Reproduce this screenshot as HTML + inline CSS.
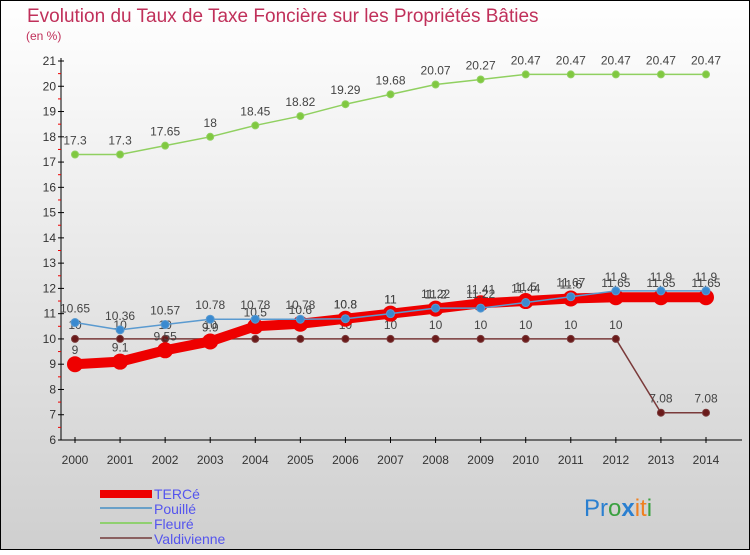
<!DOCTYPE html>
<html><head><meta charset="utf-8"><style>
body{margin:0}
svg text{font-family:"Liberation Sans",sans-serif}
</style></head><body>
<svg width="750" height="550" xmlns="http://www.w3.org/2000/svg">
<defs><linearGradient id="bg" x1="0" y1="0" x2="0" y2="1"><stop offset="0" stop-color="#ffffff"/><stop offset="1" stop-color="#cfcfcf"/></linearGradient></defs>
<rect x="0.5" y="0.5" width="749" height="549" fill="url(#bg)" stroke="#000"/>
<text x="27" y="22" font-size="19" fill="#c0305a">Evolution du Taux de Taxe Foncière sur les Propriétés Bâties</text>
<text x="26" y="40" font-size="12" fill="#c0305a">(en %)</text>
<g id="axes"></g>
<g id="series"></g>
<g>
<rect x="100" y="490" width="52" height="8" fill="#ee0000"/>
<text x="154" y="499" font-size="14" fill="#5555ee">TERCé</text>
<rect x="100" y="507" width="52" height="2" fill="#6aa0c8"/>
<text x="154" y="514" font-size="14" fill="#5555ee">Pouillé</text>
<rect x="100" y="522" width="52" height="2" fill="#90d070"/>
<text x="154" y="529" font-size="14" fill="#5555ee">Fleuré</text>
<rect x="100" y="537" width="52" height="2" fill="#8a6060"/>
<text x="154" y="544" font-size="14" fill="#5555ee">Valdivienne</text>
</g>
<text x="584" y="516" font-size="24"><tspan fill="#2a7fd0">Pr</tspan><tspan fill="#3aa040">o</tspan><tspan fill="#2a7fd0" font-weight="bold">x</tspan><tspan fill="#f08020">it</tspan><tspan fill="#3aa040">i</tspan></text>
</svg>
<script>
const years=[2000,2001,2002,2003,2004,2005,2006,2007,2008,2009,2010,2011,2012,2013,2014];
const yTicks=[6,7,8,9,10,11,12,13,14,15,16,17,18,19,20,21];
const terce=[9,9.1,9.55,9.9,10.5,10.6,10.8,11,11.2,11.41,11.5,11.6,11.65,11.65,11.65];
const terceLabels=["9","9.1","9.55","9.9","10.5","10.6","10.8","11","11.2","11.41","11.5","11.6","11.65","11.65","11.65"];
const pouille=[10.65,10.36,10.57,10.78,10.78,10.78,10.8,11,11.22,11.22,11.44,11.67,11.9,11.9,11.9];
const pouilleLabels=["10.65","10.36","10.57","10.78","10.78","10.78","10.8","11","11.22","11.22","11.44","11.67","11.9","11.9","11.9"];
const fleure=[17.3,17.3,17.65,18,18.45,18.82,19.29,19.68,20.07,20.27,20.47,20.47,20.47,20.47,20.47];
const fleureLabels=["17.3","17.3","17.65","18","18.45","18.82","19.29","19.68","20.07","20.27","20.47","20.47","20.47","20.47","20.47"];
const valdi=[10,10,10,10,10,10,10,10,10,10,10,10,10,7.08,7.08];
const valdiLabels=["10","10","10","10","10","10","10","10","10","10","10","10","10","7.08","7.08"];
const NS="http://www.w3.org/2000/svg";
const xS=i=>75+i*(706-75)/(years.length-1);
const yS=v=>440-(v-6)*(440-61)/15;
function mk(tag,attrs,parent){const e=document.createElementNS(NS,tag);for(const k in attrs)e.setAttribute(k,attrs[k]);parent.appendChild(e);return e;}
const ax=document.getElementById('axes');
let l=mk('line',{x1:61,y1:58,x2:61,y2:440,stroke:'#000'},ax);


l=mk('line',{x1:61,y1:440,x2:742,y2:440,stroke:'#000'},ax);


yTicks.forEach(v=>{
 mk('line',{x1:58,x2:64,y1:yS(v),y2:yS(v),stroke:'#000'},ax);
 if(v<21){mk('line',{x1:58,x2:61,y1:yS(v+0.5),y2:yS(v+0.5),stroke:'#e00'},ax);}
 const t=mk('text',{x:56,y:yS(v)+4,'font-size':12,'text-anchor':'end',fill:'#333'},ax);t.textContent=v;
 
 
});
years.forEach((y,i)=>{
 mk('line',{x1:xS(i),x2:xS(i),y1:437,y2:443,stroke:'#000'},ax);
 const t=mk('text',{x:xS(i),y:464,'font-size':12,'text-anchor':'middle',fill:'#333'},ax);t.textContent=y;
 
 
});
const sg=document.getElementById('series');
function series(vals,labs,color,w,r,dot,name){
 const g=mk('g',{},sg);
 
 
 const p=mk('polyline',{points:vals.map((v,i)=>xS(i)+','+yS(v)).join(' '),fill:'none',stroke:color,'stroke-width':w},g);
 
 
 vals.forEach((v,i)=>{
  const c=mk('circle',{cx:xS(i),cy:yS(v),r:r,fill:dot,stroke:color,'stroke-width':1},g);
  
  
  const t=mk('text',{x:xS(i),y:yS(v)-10,'font-size':12,'text-anchor':'middle',fill:'#444'},g);t.textContent=labs[i];
  
  
 });
}
series(valdi,valdiLabels,'#7a3a3a',1.5,3.5,'#6a1a1a','valdivienne');
series(fleure,fleureLabels,'#90d060',1.5,3.5,'#80c840','fleure');
series(terce,terceLabels,'#ee0000',10,7.5,'#ee0000','terce');
series(pouille,pouilleLabels,'#5a9ad0',1.5,4,'#3a8ad0','pouille');
</script>
</body></html>
